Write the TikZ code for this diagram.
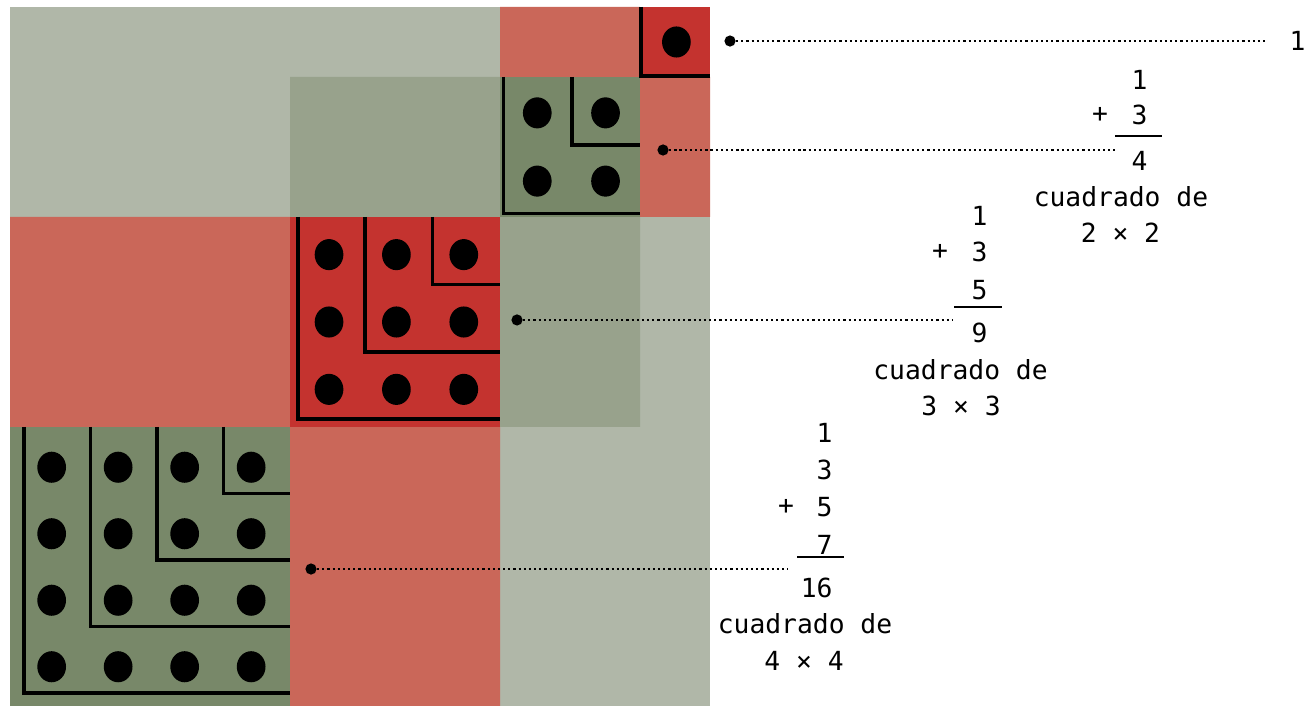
\documentclass[tikz,border=0pt]{standalone}
\usepackage{fontspec}
\setmonofont{DejaVu Sans Mono}
\usepackage{tikz}
\usepackage{xcolor}
\definecolor{paleSage}{HTML}{B0B7A8}
\definecolor{midSage}{HTML}{98A28C}
\definecolor{darkSage}{HTML}{788869}
\definecolor{brick}{HTML}{C4332F}
\definecolor{salmon}{HTML}{CA6759}

\begin{document}
\begin{tikzpicture}[x=1cm,y=-1cm,
  gnomon/.style={line width=1.45pt},
  pin/.style={circle,fill=black,inner sep=0pt,minimum size=0.16cm},
  lead/.style={line width=0.9pt,dash pattern=on 0.9pt off 1.2pt},
  num/.style={font=\ttfamily\fontsize{10.7}{12}\selectfont,inner sep=0pt},
  bar/.style={line width=0.8pt}]
  \useasboundingbox (-0.143,-0.1) rectangle (18.586,9.986);
  % background tiles
  \fill[paleSage] (0,0) rectangle (10,10);
  \fill[salmon] (7,0) rectangle (9,1) (9,1) rectangle (10,3);
  \fill[midSage] (4,1) rectangle (7,3) (7,3) rectangle (9,6);
  \fill[salmon] (0,3) rectangle (4,6) (4,6) rectangle (7,10);
  % the squares
  \fill[brick] (9,0) rectangle (10,1);
  \fill[darkSage] (7,1) rectangle (9,3);
  \fill[brick] (4,3) rectangle (7,6);
  \fill[darkSage] (0,6) rectangle (4,10);
  % nested L lines and dots
  \foreach \n/\X/\Y in {1/9/0,2/7/1,3/4/3,4/0/6}{
    \pgfmathsetmacro\lgap{0.0125*\n*\n}
    \pgfmathsetmacro\pitch{(\n-\lgap)/\n}
    \foreach \j in {1,...,\n}{
      \draw[gnomon] (\X+\lgap+\j*\pitch-\pitch,\Y) |- (\X+\n,\Y+\n-\lgap-\j*\pitch+\pitch);
      \foreach \k in {1,...,\n}
        \fill (\X+\lgap/2+\j*\pitch-\pitch/2+0.02,\Y+\lgap/2+\k*\pitch-\pitch/2) ellipse [x radius=0.205,y radius=0.222];
    }
  }

  % 1
  \node[pin] (pin1) at (10.286,0.486) {};
  \node[num,anchor=east] (one) at (18.514,0.486) {1};
  \coordinate (end1) at (17.93,0.486);
  \draw[lead] (pin1) -- (end1);

  % 1 + 3
  \node[pin] (pin2) at (9.329,2.043) {};
  \node[num,anchor=east] (b1) at (16.257,1.043) {1};
  \node[num,anchor=east] (b3) at (16.257,1.543) {3};
  \node[num] (bplus) at (15.571,1.543) {+};
  \draw[bar] (15.786,1.843) -- (16.457,1.843);
  \node[num,anchor=east] (bsum) at (16.257,2.2) {4};
  \node[num] (btxt) at (15.871,2.714) {cuadrado de};
  \node[num] (bsq) at (15.864,3.229) {2 × 2};
  \coordinate (end2) at (15.786,2.043);
  \draw[lead] (pin2) -- (end2);

  % 1 + 3 + 5
  \node[pin] (pin3) at (7.243,4.471) {};
  \node[num,anchor=east] (c1) at (13.971,2.986) {1};
  \node[num,anchor=east] (c3) at (13.971,3.5) {3};
  \node[num,anchor=east] (c5) at (13.971,4.043) {5};
  \node[num] (cplus) at (13.286,3.5) {+};
  \draw[bar] (13.486,4.286) -- (14.171,4.286);
  \node[num,anchor=east] (csum) at (13.971,4.657) {9};
  \node[num] (ctxt) at (13.579,5.186) {cuadrado de};
  \node[num] (csq) at (13.586,5.7) {3 × 3};
  \coordinate (end3) at (13.457,4.471);
  \draw[lead] (pin3) -- (end3);

  % 1 + 3 + 5 + 7
  \node[pin] (pin4) at (4.3,8.029) {};
  \node[num,anchor=east] (d1) at (11.757,6.086) {1};
  \node[num,anchor=east] (d3) at (11.757,6.614) {3};
  \node[num,anchor=east] (d5) at (11.757,7.143) {5};
  \node[num,anchor=east] (d7) at (11.757,7.686) {7};
  \node[num] (dplus) at (11.086,7.143) {+};
  \draw[bar] (11.243,7.857) -- (11.914,7.857);
  \node[num,anchor=east] (dsum) at (11.757,8.3) {16};
  \node[num] (dtxt) at (11.357,8.814) {cuadrado de};
  \node[num] (dsq) at (11.343,9.343) {4 × 4};
  \coordinate (end4) at (11.114,8.029);
  \draw[lead] (pin4) -- (end4);
\end{tikzpicture}
\end{document}
